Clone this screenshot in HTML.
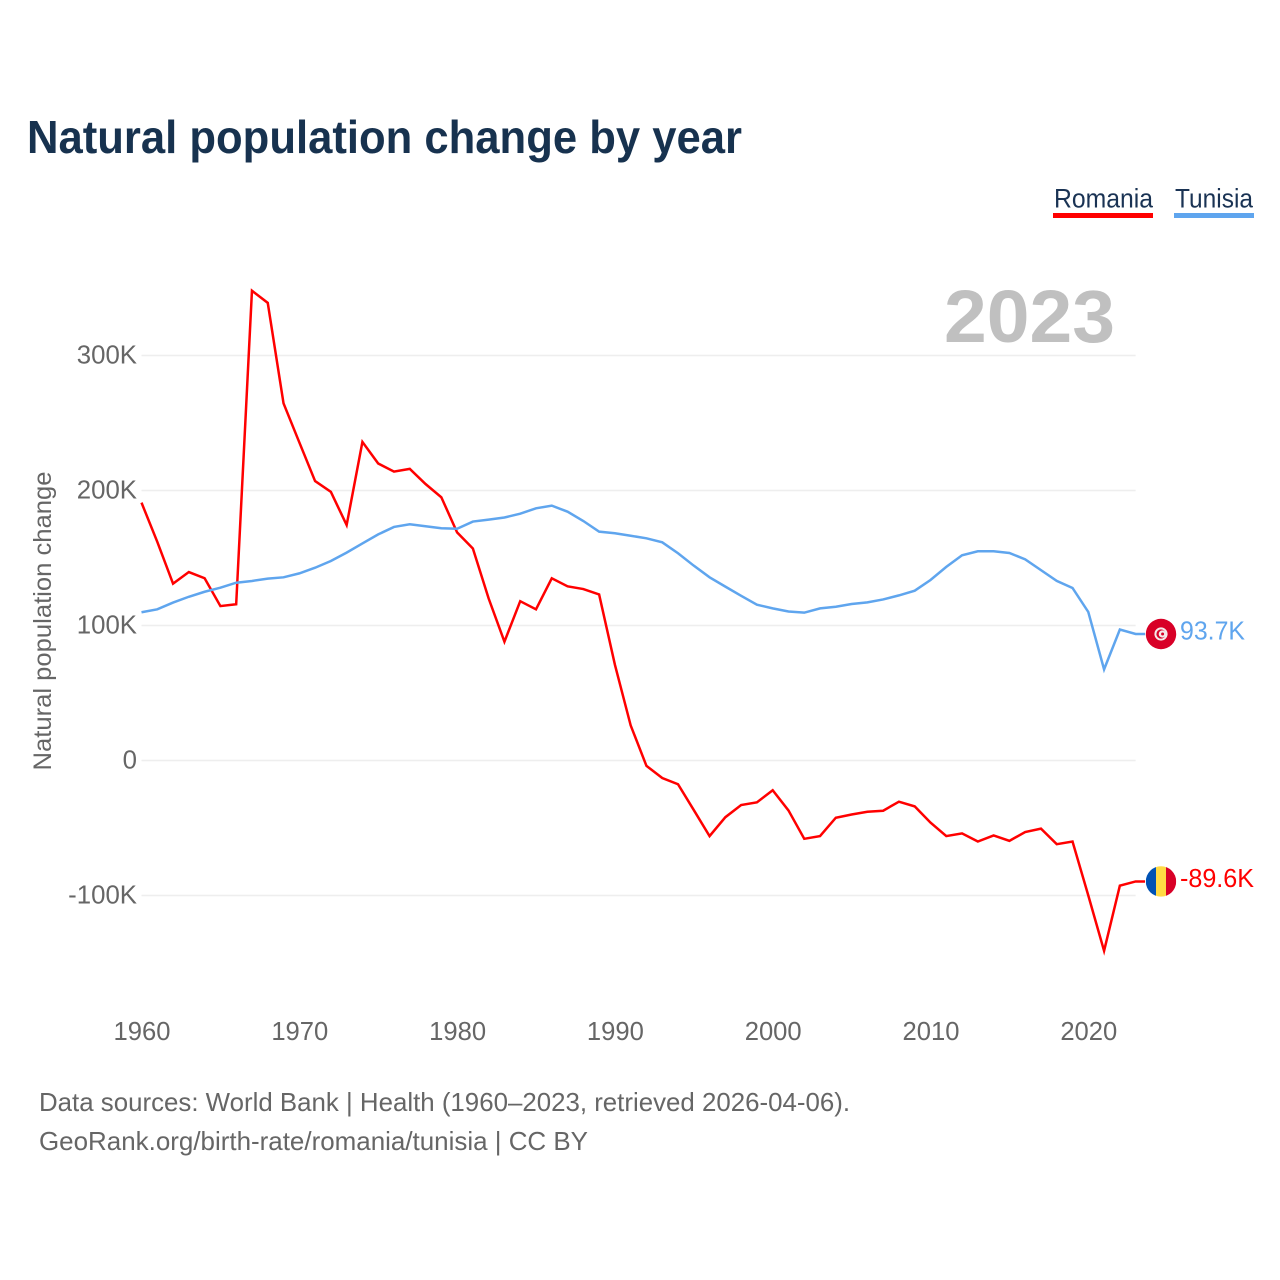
<!DOCTYPE html>
<html lang="en">
<head>
<meta charset="utf-8">
<title>Natural population change by year</title>
<style>
html,body{margin:0;padding:0;background:#fff;width:1280px;height:1280px;overflow:hidden}
svg{display:block;font-family:"Liberation Sans",sans-serif}
</style>
</head>
<body>
<svg id="chart" xmlns="http://www.w3.org/2000/svg" width="1280" height="1280" viewBox="0 0 1280 1280">
  <rect x="0" y="0" width="1280" height="1280" fill="#fff"/>
  <text x="27" y="153" font-size="46" font-weight="700" fill="#17324f" textLength="715" lengthAdjust="spacingAndGlyphs">Natural population change by year</text>

  <g>
    <text x="1054" y="207.5" font-size="27" fill="#1a3354" textLength="99" lengthAdjust="spacingAndGlyphs">Romania</text>
    <rect x="1053" y="213" width="100" height="5" fill="#ff0000"/>
  </g>
  <g>
    <text x="1175" y="207.5" font-size="27" fill="#1a3354" textLength="78" lengthAdjust="spacingAndGlyphs">Tunisia</text>
    <rect x="1174" y="213" width="80" height="5" fill="#5fa5ee"/>
  </g>

  <text x="944" y="342" font-size="74" font-weight="700" fill="#c0c0c0" textLength="171" lengthAdjust="spacingAndGlyphs">2023</text>

  <g id="grid"></g>
  <g id="yticks"></g>
  <g id="xticks"></g>
  <text transform="translate(51 621) rotate(-90)" text-anchor="middle" font-size="25" fill="#666" textLength="299" lengthAdjust="spacingAndGlyphs">Natural population change</text>

  <g id="series"></g>

  <g id="flag-tunisia">
    <circle cx="0" cy="0" r="15.2" fill="#d80027"/>
    <circle cx="0" cy="0" r="6.6" fill="#f4eaea"/>
    <circle cx="0" cy="0" r="4.6" fill="#d80027"/>
    <circle cx="1.3" cy="0" r="3.6" fill="#f4eaea"/>
    <circle cx="1.6" cy="0" r="1.5" fill="#d80027"/>
  </g>
  <g id="flag-romania">
    <clipPath id="ro-clip"><circle cx="0" cy="0" r="15.2"/></clipPath>
    <g clip-path="url(#ro-clip)">
      <rect x="-15.2" y="-16" width="10.2" height="32" fill="#0052b4"/>
      <rect x="-5" y="-16" width="10" height="32" fill="#ffda44"/>
      <rect x="5" y="-16" width="10.2" height="32" fill="#d80027"/>
    </g>
  </g>
  <text id="end-tunisia" x="1180" font-size="25.5" fill="#5fa5ee" textLength="65" lengthAdjust="spacingAndGlyphs"></text>
  <text id="end-romania" x="1180" font-size="25.5" fill="#ff0000" textLength="74" lengthAdjust="spacingAndGlyphs"></text>

  <text x="39" y="1111" font-size="26" fill="#666" textLength="811" lengthAdjust="spacingAndGlyphs">Data sources: World Bank | Health (1960–2023, retrieved 2026-04-06).</text>
  <text x="39" y="1150" font-size="26" fill="#666" textLength="549" lengthAdjust="spacingAndGlyphs">GeoRank.org/birth-rate/romania/tunisia | CC BY</text>
</svg>
<script>
const years = [1960,1961,1962,1963,1964,1965,1966,1967,1968,1969,1970,1971,1972,1973,1974,1975,1976,1977,1978,1979,1980,1981,1982,1983,1984,1985,1986,1987,1988,1989,1990,1991,1992,1993,1994,1995,1996,1997,1998,1999,2000,2001,2002,2003,2004,2005,2006,2007,2008,2009,2010,2011,2012,2013,2014,2015,2016,2017,2018,2019,2020,2021,2022,2023];
const romaniaValues = [191,162,131,139.6,135,114.4,115.7,348,339,264.6,235.7,207,199,174.4,236,220,214,216,204.8,195,169,157,120,88,118,112,135,129,127,123,71,26,-4,-13,-17.6,-36.7,-56,-42,-33,-31,-22,-37,-58,-56,-42.4,-40,-38,-37.2,-30.5,-34,-46,-56,-54,-60,-55.5,-59.5,-53,-50.5,-62,-60,-100,-141,-92.7,-89.6];
const tunisiaValues = [109.8,112,117,121.3,125,128,131.7,133,134.7,135.7,138.6,142.8,147.8,154,160.8,167.5,173,175,173.5,172,171.7,177,178.4,180,182.8,186.8,188.8,184.3,177.4,169.5,168.3,166.5,164.6,161.6,153.5,144.3,135.7,128.8,122,115.4,112.7,110.4,109.5,112.7,113.9,115.9,117.1,119.3,122.3,125.8,133.7,143.4,152,155,155,153.7,149,141,133,127.8,110,67.5,97,93.7];
const yTickValues = [300,200,100,0,-100];
const yTickLabels = ['300K','200K','100K','0','-100K'];
const xTickValues = [1960,1970,1980,1990,2000,2010,2020];

const NS = 'http://www.w3.org/2000/svg';
const xScale = function (year) { return 141.5 + (year - 1960) * 15.78; };
const yScale = function (value) { return 760.5 - value * 1.35; };

const grid = document.getElementById('grid');
const yticks = document.getElementById('yticks');
const xticks = document.getElementById('xticks');
const series = document.getElementById('series');

yTickValues.forEach(function (value, i) {
  const line = document.createElementNS(NS, 'line');
  
  
  line.setAttribute('x1', xScale(1960));
  line.setAttribute('x2', xScale(2023));
  line.setAttribute('y1', yScale(value));
  line.setAttribute('y2', yScale(value));
  line.setAttribute('stroke', '#eeeeee');
  line.setAttribute('stroke-width', '1.5');
  grid.appendChild(line);

  const label = document.createElementNS(NS, 'text');
  
  
  label.setAttribute('x', 137);
  label.setAttribute('y', yScale(value) + 8);
  label.setAttribute('text-anchor', 'end');
  label.setAttribute('font-size', '25.8');
  label.setAttribute('fill', '#666');
  label.textContent = yTickLabels[i];
  yticks.appendChild(label);
});

xTickValues.forEach(function (year) {
  const label = document.createElementNS(NS, 'text');
  
  
  label.setAttribute('x', xScale(year) + 0.5);
  label.setAttribute('y', 1040);
  label.setAttribute('text-anchor', 'middle');
  label.setAttribute('font-size', '25.6');
  label.setAttribute('fill', '#666');
  label.textContent = String(year);
  xticks.appendChild(label);
});

function linePoints(values) {
  const pts = values.map(function (v, i) { return xScale(years[i]).toFixed(2) + ',' + yScale(v).toFixed(2); });
  pts.push('1145,' + yScale(values[values.length - 1]).toFixed(2));
  return pts.join(' ');
}

const romaniaLine = document.createElementNS(NS, 'polyline');


romaniaLine.setAttribute('points', linePoints(romaniaValues));
romaniaLine.setAttribute('fill', 'none');
romaniaLine.setAttribute('stroke', '#ff0000');
romaniaLine.setAttribute('stroke-width', '2.5');
series.appendChild(romaniaLine);

const tunisiaLine = document.createElementNS(NS, 'polyline');


tunisiaLine.setAttribute('points', linePoints(tunisiaValues));
tunisiaLine.setAttribute('fill', 'none');
tunisiaLine.setAttribute('stroke', '#5fa5ee');
tunisiaLine.setAttribute('stroke-width', '2.5');
series.appendChild(tunisiaLine);

function formatK(v) { return v.toFixed(1) + 'K'; }
const tnLast = tunisiaValues[tunisiaValues.length - 1];
const roLast = romaniaValues[romaniaValues.length - 1];
document.getElementById('flag-tunisia').setAttribute('transform', 'translate(1161 ' + yScale(tnLast) + ')');
document.getElementById('flag-romania').setAttribute('transform', 'translate(1161 ' + yScale(roLast) + ')');
const endTn = document.getElementById('end-tunisia');
endTn.setAttribute('y', yScale(tnLast) + 5.5);
endTn.textContent = formatK(tnLast);
const endRo = document.getElementById('end-romania');
endRo.setAttribute('y', yScale(roLast) + 5.5);
endRo.textContent = formatK(roLast);
</script>
</body>
</html>
